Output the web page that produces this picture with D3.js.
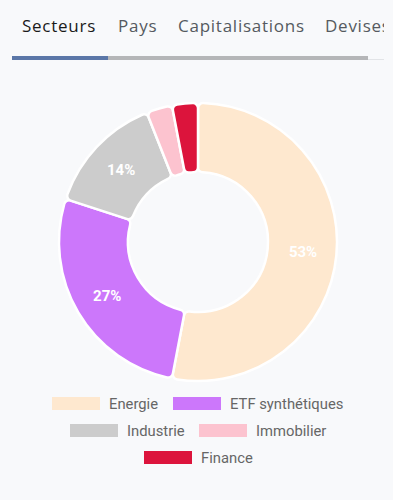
<!DOCTYPE html>
<html><head><meta charset="utf-8">
<script src="https://cdn.jsdelivr.net/npm/d3@7"></script>
<style>
html,body{margin:0;padding:0;background:#f8f9fb;width:393px;height:500px;overflow:hidden;}
svg{display:block;}
</style></head>
<body>
<svg id="c" width="393" height="500"></svg>
<script>
const tabs = ["Secteurs","Pays","Capitalisations","Devises"];
const categories = ["Energie","ETF synthétiques","Industrie","Immobilier","Finance"];
const values = [53,27,14,3,3];
const labels = ["53%","27%","14%","",""];
const colors = ["#fee8cf","#cc77fb","#cccccc","#fcc3cf","#dc143c"];

const svg = d3.select("#c");
svg.append("rect").attr("width",393).attr("height",500).attr("fill","#f8f9fb");

// tabs
svg.append("defs").append("clipPath").attr("id","tabclip")
  .append("rect").attr("x",0).attr("y",0).attr("width",384).attr("height",50);
const tabX = [22,118,178,325];
const tg = svg.append("g").attr("clip-path","url(#tabclip)");
tabs.forEach((t,i)=>{
  tg.append("text").attr("x",tabX[i]).attr("y",32).text(t)
    .attr("font-family","'Open Sans', sans-serif").attr("font-size",17)
    .attr("letter-spacing",0.75)
    .attr("fill", i===0 ? "#1a1a1a" : "#555a60")
    .attr("font-weight", i===0 ? 500 : 400);
});
svg.append("rect").attr("x",368).attr("y",59).attr("width",16).attr("height",1).attr("fill","#e2e4e7");
svg.append("rect").attr("x",12).attr("y",56).attr("width",356).attr("height",4).attr("fill","#b5b6b8");
svg.append("rect").attr("x",12).attr("y",56).attr("width",96).attr("height",4).attr("fill","#5b77a8");

// donut
const cx=198, cy=242, rOut=139, rIn=70;
const pie = d3.pie().sort(null).value(d=>d);
const arcs = pie(values);
const arc = d3.arc().innerRadius(rIn).outerRadius(rOut).cornerRadius(5);
const g = svg.append("g").attr("transform",`translate(${cx},${cy})`);
g.selectAll("path").data(arcs).join("path")
  .attr("d",arc).attr("fill",(d,i)=>colors[i])
  .attr("stroke","#ffffff").attr("stroke-width",2.5).attr("stroke-linejoin","round");
const lab = d3.arc().innerRadius((rIn+rOut)/2+1).outerRadius((rIn+rOut)/2+1);
g.selectAll("text").data(arcs).join("text")
  .attr("transform",d=>`translate(${lab.centroid(d)})`)
  .attr("text-anchor","middle").attr("dy","0.35em")
  .attr("font-family","Roboto, sans-serif").attr("font-size",15).attr("font-weight",700)
  .attr("fill","#ffffff").text((d,i)=>labels[i]);

// legend
const legendPos = [[52,403],[173,403],[70,430],[199,430],[144,457]];
const lg = svg.append("g");
categories.forEach((c,i)=>{
  const [x,y]=legendPos[i];
  lg.append("rect").attr("x",x).attr("y",y-6).attr("width",48).attr("height",13)
    .attr("fill",colors[i]);
  lg.append("text").attr("x",x+57).attr("y",y+5.5).text(c)
    .attr("font-family","Roboto, sans-serif").attr("font-size",14.8).attr("fill","#666666");
});
</script>
</body></html>
